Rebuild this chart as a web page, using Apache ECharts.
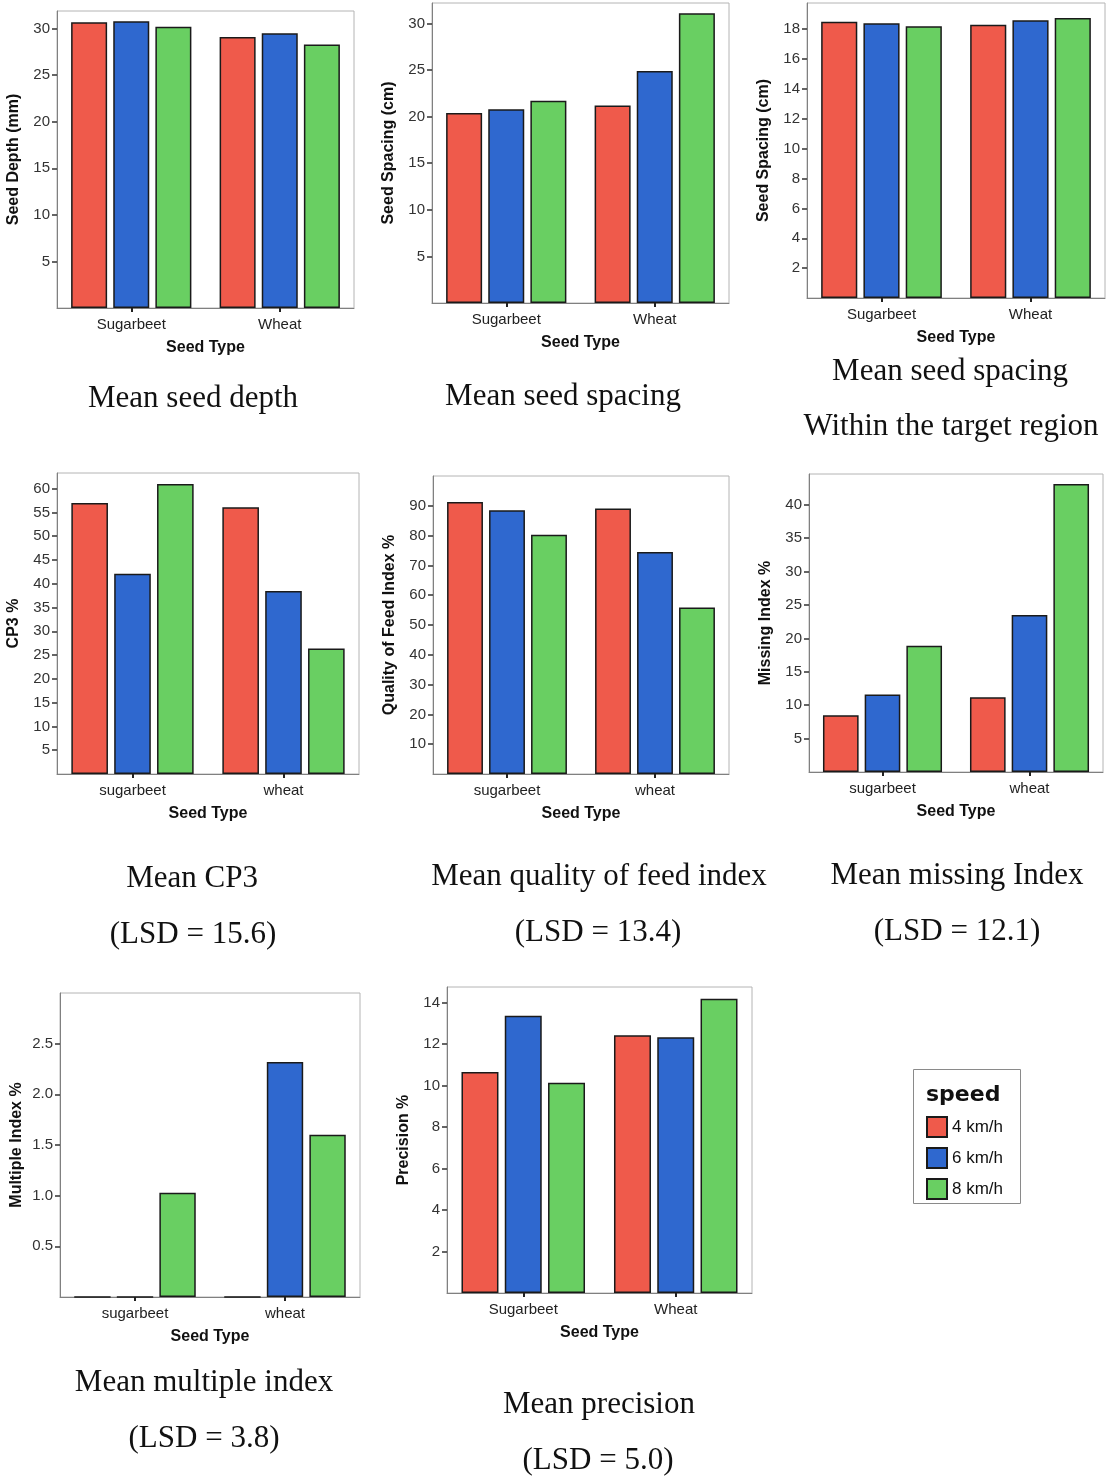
<!DOCTYPE html>
<html>
<head>
<meta charset="utf-8">
<title>Seed drill performance by seed type and speed</title>
<script src="https://cdn.jsdelivr.net/npm/echarts@6/dist/echarts.min.js"></script>
<style>
  html, body { margin: 0; padding: 0; background: #fff; }
  #chart { width: 1108px; height: 1478px; }
</style>
</head>
<body>
<div id="chart"></div>
<script>
// Categories
const seedTypes = ['Sugarbeet', 'Wheat'];
const seedTypesLower = ['sugarbeet', 'wheat'];
const speeds = ['4 km/h', '6 km/h', '8 km/h'];

// Mean values per speed: [sugarbeet, wheat]
const depth4 = [30.7, 29.1];
const depth6 = [30.8, 29.5];
const depth8 = [30.2, 28.3];

const spacing4 = [20.4, 21.2];
const spacing6 = [20.8, 24.9];
const spacing8 = [21.7, 31.1];

const target4 = [18.5, 18.3];
const target6 = [18.4, 18.6];
const target8 = [18.2, 18.75];

const cp3_4 = [57.0, 56.1];
const cp3_6 = [42.1, 38.5];
const cp3_8 = [61.0, 26.4];

const feed4 = [91.3, 89.1];
const feed6 = [88.5, 74.5];
const feed8 = [80.3, 55.9];

const missing4 = [8.5, 11.2];
const missing6 = [11.6, 23.5];
const missing8 = [18.9, 43.1];

const multiple4 = [0, 0];
const multiple6 = [0, 2.32];
const multiple8 = [1.03, 1.60];

const precision4 = [10.65, 12.43];
const precision6 = [13.36, 12.33];
const precision8 = [10.14, 14.18];

// Tick labels for each value axis
const depthTicks = [5, 10, 15, 20, 25, 30];
const spacingTicks = [5, 10, 15, 20, 25, 30];
const targetTicks = [2, 4, 6, 8, 10, 12, 14, 16, 18];
const cp3Ticks = [5, 10, 15, 20, 25, 30, 35, 40, 45, 50, 55, 60];
const feedTicks = [10, 20, 30, 40, 50, 60, 70, 80, 90];
const missingTicks = [5, 10, 15, 20, 25, 30, 35, 40];
const multipleTicks = [0.5, 1.0, 1.5, 2.0, 2.5];
const precisionTicks = [2, 4, 6, 8, 10, 12, 14];

const SANS = '"Liberation Sans", Arial, sans-serif';
const SERIF = '"Liberation Serif", "Times New Roman", serif';
const barColors = ['#EF5A4B', '#2F68CF', '#69CF62'];

const panels = [
  { grid: { left: 57, top: 11, width: 297, height: 297 }, max: 31.9, ticks: depthTicks,
    cats: seedTypes, yName: 'Seed Depth (mm)', values: [depth4, depth6, depth8] },
  { grid: { left: 432, top: 3, width: 297, height: 300 }, max: 32.2, ticks: spacingTicks,
    cats: seedTypes, yName: 'Seed Spacing (cm)', values: [spacing4, spacing6, spacing8] },
  { grid: { left: 807, top: 3, width: 298, height: 295 }, max: 19.75, ticks: targetTicks,
    cats: seedTypes, yName: 'Seed Spacing (cm)', values: [target4, target6, target8] },
  { grid: { left: 57, top: 473, width: 302, height: 301 }, max: 63.3, ticks: cp3Ticks,
    cats: seedTypesLower, yName: 'CP3 %', values: [cp3_4, cp3_6, cp3_8] },
  { grid: { left: 433, top: 476, width: 296, height: 298 }, max: 100, ticks: feedTicks,
    cats: seedTypesLower, yName: 'Quality of Feed Index %', values: [feed4, feed6, feed8] },
  { grid: { left: 809, top: 474, width: 294, height: 298 }, max: 44.6, ticks: missingTicks,
    cats: seedTypesLower, yName: 'Missing Index %', values: [missing4, missing6, missing8] },
  { grid: { left: 60, top: 993, width: 300, height: 304 }, max: 3.0, ticks: multipleTicks,
    cats: seedTypesLower, yName: 'Multiple Index %', values: [multiple4, multiple6, multiple8], decimals: 1 },
  { grid: { left: 447, top: 987, width: 305, height: 306 }, max: 14.75, ticks: precisionTicks,
    cats: seedTypes, yName: 'Precision %', values: [precision4, precision6, precision8] }
];

// Captions under each panel: [text, centerX, centerY]
const captions = [
  ['Mean seed depth', 193, 399],
  ['Mean seed spacing', 563, 397],
  ['Mean seed spacing', 950, 372],
  ['Within the target region', 951, 427],
  ['Mean CP3', 192, 879],
  ['(LSD = 15.6)', 193, 935],
  ['Mean quality of feed index', 599, 877],
  ['(LSD = 13.4)', 598, 933],
  ['Mean missing Index', 957, 876],
  ['(LSD = 12.1)', 957, 932],
  ['Mean multiple index', 204, 1383],
  ['(LSD = 3.8)', 204, 1439],
  ['Mean precision', 599, 1405],
  ['(LSD = 5.0)', 598, 1461]
];

const grids = [], xAxes = [], yAxes = [], series = [];
panels.forEach((p, i) => {
  grids.push(Object.assign({
    show: true, borderColor: '#b4b4b4', borderWidth: 1, backgroundColor: '#fff'
  }, p.grid));
  xAxes.push({
    type: 'category', gridIndex: i, data: p.cats,
    name: 'Seed Type', nameLocation: 'middle', nameGap: 32,
    nameTextStyle: { fontFamily: SANS, fontWeight: 'bold', fontSize: 16, color: '#111' },
    axisLine: { show: true, lineStyle: { color: '#808080', width: 1 } },
    axisTick: { show: true, alignWithLabel: true, length: 4, lineStyle: { color: '#222', width: 2 } },
    axisLabel: { margin: 9, fontFamily: SANS, fontSize: 15, color: '#222' },
    splitLine: { show: false }
  });
  yAxes.push({
    type: 'value', gridIndex: i, min: 0, max: p.max,
    name: p.yName, nameLocation: 'middle', nameGap: 35,
    nameTextStyle: { fontFamily: SANS, fontWeight: 'bold', fontSize: 16, color: '#111' },
    axisLine: { show: true, lineStyle: { color: '#808080', width: 1 } },
    axisTick: { show: true, length: 5, customValues: p.ticks, lineStyle: { color: '#333', width: 1.5 } },
    axisLabel: {
      customValues: p.ticks, margin: 7, fontFamily: SANS, fontSize: 15, color: '#333',
      formatter: v => p.decimals ? Number(v).toFixed(p.decimals) : String(v)
    },
    splitLine: { show: false }
  });
  p.values.forEach((vals, k) => {
    series.push({
      type: 'bar', name: speeds[k], xAxisIndex: i, yAxisIndex: i, data: vals,
      barGap: '17%', barCategoryGap: '19%',
      itemStyle: { color: barColors[k], borderColor: '#1a1a1a', borderWidth: 1.5 },
      emphasis: { disabled: true }
    });
  });
});

const graphics = captions.map(([t, x, y]) => ({
  type: 'text', x: x, y: y,
  style: { text: t, font: '31px ' + SERIF, fill: '#111', textAlign: 'center', textVerticalAlign: 'middle' }
}));
// Legend frame and heading
graphics.push({
  type: 'rect', z: 0,
  shape: { x: 913.5, y: 1069.5, width: 107, height: 134 },
  style: { fill: '#fff', stroke: '#8a8a8a', lineWidth: 1 }
});
graphics.push({
  type: 'text', z: 1, x: 926, y: 1095,
  style: { text: 'speed', font: 'bold 22px "DejaVu Sans", sans-serif', fill: '#111', textVerticalAlign: 'middle' }
});

const chart = echarts.init(document.getElementById('chart'), null, { renderer: 'canvas' });
chart.setOption({
  animation: false,
  backgroundColor: '#fff',
  grid: grids,
  xAxis: xAxes,
  yAxis: yAxes,
  series: series,
  legend: {
    data: speeds, orient: 'vertical', left: 926, top: 1116, z: 10,
    icon: 'rect', itemWidth: 20, itemHeight: 20, itemGap: 9,
    padding: 0,
    textStyle: { fontFamily: SANS, fontSize: 17, color: '#111' },
    selectedMode: false
  },
  graphic: graphics
});
</script>
</body>
</html>
